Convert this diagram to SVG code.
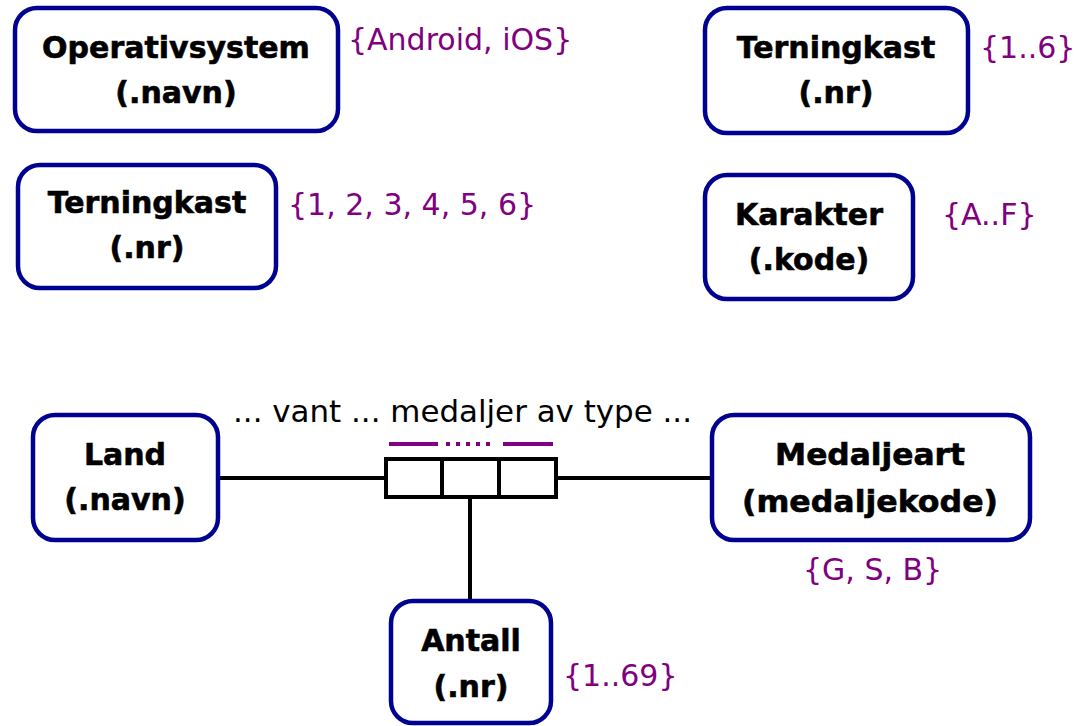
<svg xmlns="http://www.w3.org/2000/svg" width="1076" height="726" viewBox="0 0 1076 726">
  <style>
    .box { fill: #ffffff; stroke: #000091; stroke-width: 4.5; }
    .name { font-family: "DejaVu Sans", Verdana, sans-serif; font-weight: bold; font-size: 30px; fill: #000000; stroke: #000000; stroke-width: 0.6; text-anchor: middle; }
    .dom { font-family: "DejaVu Sans", Verdana, sans-serif; font-size: 30px; fill: #800080; }
    .lbl { font-family: "DejaVu Sans", Verdana, sans-serif; font-size: 30px; fill: #000000; }
    .line { stroke: #000000; stroke-width: 4; fill: none; }
    .role { stroke: #800080; stroke-width: 4; fill: none; }
  </style>
  <rect width="1076" height="726" fill="#ffffff"/>

  <!-- connectors: ternary relationship with role bars -->
  <g id="connectors">
    <line class="line" x1="218" y1="478" x2="386" y2="478"/>
    <line class="line" x1="556" y1="478" x2="712" y2="478"/>
    <line class="line" x1="470" y1="497" x2="470" y2="601"/>
    <rect class="line" x="386" y="459" width="170" height="38" fill="#ffffff"/>
    <line class="line" x1="442" y1="459" x2="442" y2="497"/>
    <line class="line" x1="499" y1="459" x2="499" y2="497"/>
    <line class="role" x1="389" y1="444" x2="438" y2="444"/>
    <line class="role" x1="446" y1="444" x2="492" y2="444" stroke-dasharray="4 6"/>
    <line class="role" x1="503" y1="444" x2="553" y2="444"/>
    <text class="lbl" x="233" y="422" textLength="459" lengthAdjust="spacingAndGlyphs">... vant ... medaljer av type ...</text>
  </g>

  <g id="operativsystem">
    <rect class="box" x="15" y="8" width="323" height="123" rx="22"/>
    <text class="name" x="176" y="58">Operativsystem</text>
    <text class="name" x="176" y="103">(.navn)</text>
    <text class="dom" x="348" y="50">{Android, iOS}</text>
  </g>

  <g id="terningkast-liste">
    <rect class="box" x="18" y="165" width="258" height="123" rx="22"/>
    <text class="name" x="147" y="213">Terningkast</text>
    <text class="name" x="147" y="258">(.nr)</text>
    <text class="dom" x="288" y="215">{1, 2, 3, 4, 5, 6}</text>
  </g>

  <g id="terningkast-intervall">
    <rect class="box" x="705" y="8" width="263" height="125" rx="22"/>
    <text class="name" x="836" y="58">Terningkast</text>
    <text class="name" x="836" y="103">(.nr)</text>
    <text class="dom" x="980" y="58">{1..6}</text>
  </g>

  <g id="karakter">
    <rect class="box" x="705" y="175" width="208" height="124" rx="22"/>
    <text class="name" x="809" y="225">Karakter</text>
    <text class="name" x="809" y="270">(.kode)</text>
    <text class="dom" x="942" y="225">{A..F}</text>
  </g>

  <g id="land">
    <rect class="box" x="33" y="415" width="185" height="125" rx="22"/>
    <text class="name" x="125" y="465">Land</text>
    <text class="name" x="125" y="510">(.navn)</text>
  </g>

  <g id="medaljeart">
    <rect class="box" x="712" y="415" width="318" height="125" rx="22"/>
    <text class="name" x="870" y="465" textLength="190" lengthAdjust="spacingAndGlyphs">Medaljeart</text>
    <text class="name" x="870" y="512" textLength="256" lengthAdjust="spacingAndGlyphs">(medaljekode)</text>
    <text class="dom" x="803" y="580">{G, S, B}</text>
  </g>

  <g id="antall">
    <rect class="box" x="391" y="601" width="160" height="122" rx="22"/>
    <text class="name" x="471" y="651">Antall</text>
    <text class="name" x="471" y="697">(.nr)</text>
    <text class="dom" x="563" y="686">{1..69}</text>
  </g>
</svg>
